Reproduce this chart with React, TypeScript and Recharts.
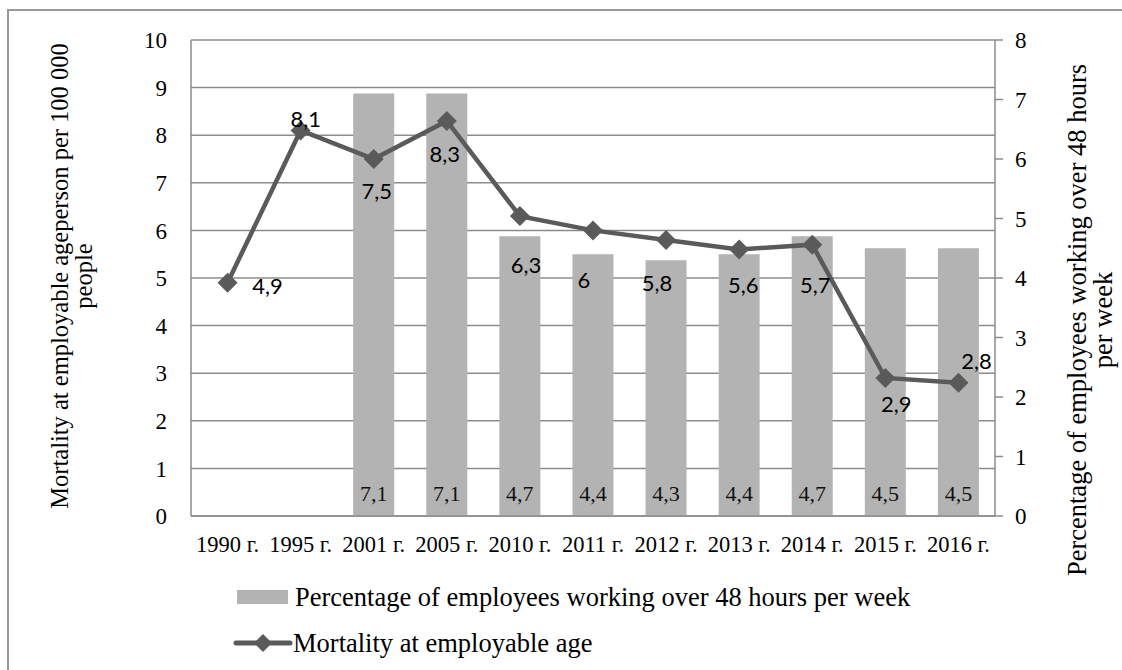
import React from 'react';
import {
    ComposedChart, Bar, Line,
    XAxis, YAxis, CartesianGrid, LabelList, Legend
} from 'recharts';

// Years on the x axis
const YEARS = ['1990 г.', '1995 г.', '2001 г.', '2005 г.', '2010 г.', '2011 г.', '2012 г.', '2013 г.', '2014 г.', '2015 г.', '2016 г.'];

// Percentage of employees working over 48 hours per week (right axis)
const OVERTIME_SHARE = [null, null, 7.1, 7.1, 4.7, 4.4, 4.3, 4.4, 4.7, 4.5, 4.5];

// Mortality at employable age, per 100 000 people (left axis)
const MORTALITY = [4.9, 8.1, 7.5, 8.3, 6.3, 6, 5.8, 5.6, 5.7, 2.9, 2.8];

const LEFT_TICKS = [0, 1, 2, 3, 4, 5, 6, 7, 8, 9, 10];
const RIGHT_TICKS = [0, 1, 2, 3, 4, 5, 6, 7, 8];

// The mortality labels were placed by hand in the original, so each one gets its own shift from the marker
const MORTALITY_LABEL_SHIFT = [
    [40, 3], [5, -12], [3, 31], [-2, 33], [6, 48], [-9, 49],
    [-9, 43], [4, 35], [3, 40], [11, 26], [18, -22],
];

const chartData = YEARS.map((year, i) => ({
    year,
    share: OVERTIME_SHARE[i],
    mortality: MORTALITY[i],
}));

const SERIF = '"Liberation Serif", "Times New Roman", serif';
const SANS = 'Lato, "Open Sans", sans-serif';
const GRID = '#8c8c8c';
const BAR = '#b3b3b3';
const LINE = '#5a5a5a';

const serifStyle = { fontFamily: SERIF };
const sansStyle = { fontFamily: SANS };

const fmt = (v: number) => String(v).replace('.', ',');

const Diamond = (props: any) => {
    const { cx, cy } = props;
    if (cx == null || cy == null) return null;
    const r = 10;
    return (
        <polygon
            points={`${cx},${cy - r} ${cx + r},${cy} ${cx},${cy + r} ${cx - r},${cy}`}
            fill={LINE}
        />
    );
};

const renderMortalityLabel = (props: any) => {
    const { index, value } = props;
    if (value == null) return null;
    const vb = props.viewBox || {};
    const x = vb.x ?? props.x;
    const y = vb.y ?? props.y;
    const [dx, dy] = MORTALITY_LABEL_SHIFT[index] || [0, -20];
    return (
        <text
            key={`m-${index}`}
            x={x + dx}
            y={y + dy}
            textAnchor="middle"
            dominantBaseline="central"
            style={sansStyle}
            fontSize={22}
            fill="#000"
        >
            {fmt(value)}
        </text>
    );
};

const renderShareLabel = (props: any) => {
    const { index, value } = props;
    if (value == null) return null;
    const vb = props.viewBox || {};
    const x = vb.x ?? props.x;
    const y = vb.y ?? props.y;
    const w = vb.width ?? props.width;
    const h = vb.height ?? props.height;
    return (
        <text
            key={`s-${index}`}
            x={x + w / 2}
            y={y + h - 15}
            textAnchor="middle"
            style={serifStyle}
            fontSize={22}
            fill="#111"
        >
            {fmt(value)}
        </text>
    );
};

const LeftTitle = () => (
    <text
        transform="rotate(-90, 68, 276)"
        x={68}
        y={276}
        textAnchor="middle"
        style={serifStyle}
        fontSize={24.5}
        fill="#000"
    >
        <tspan x={68} dy={0}>Mortality at employable ageperson per 100 000</tspan>
        <tspan x={68} dy={24}>people</tspan>
    </text>
);

const RightTitle = () => (
    <text
        transform="rotate(-90, 1086, 320)"
        x={1086}
        y={320}
        textAnchor="middle"
        style={serifStyle}
        fontSize={26.5}
        fill="#000"
    >
        <tspan x={1086} dy={0}>Percentage of employees working over 48 hours</tspan>
        <tspan x={1086} dy={26}>per week</tspan>
    </text>
);

const LegendContent = () => (
    <div style={{ position: 'relative', height: 104, fontFamily: SERIF, fontSize: 26.5, color: '#000' }}>
        <div style={{ position: 'absolute', left: 237, top: 29, width: 51, height: 14, background: BAR }} />
        <div style={{ position: 'absolute', left: 295, top: 21, lineHeight: '30px', whiteSpace: 'nowrap' }}>
            Percentage of employees working over 48 hours per week
        </div>
        <svg style={{ position: 'absolute', left: 232, top: 71 }} width={62} height={22}>
            <line x1={4} y1={11} x2={58} y2={11} stroke={LINE} strokeWidth={5} strokeLinecap="round" />
            <polygon points="31,2 40,11 31,20 22,11" fill={LINE} />
        </svg>
        <div style={{ position: 'absolute', left: 293, top: 67, lineHeight: '30px', whiteSpace: 'nowrap' }}>
            Mortality at employable age
        </div>
    </div>
);

const tickProps = { fontSize: 23, fill: '#000', style: serifStyle };

export default function App() {
    return (
        <div style={{ position: 'absolute', left: 0, top: 0, width: 1122, height: 670, background: '#fff', overflow: 'hidden', fontFamily: SERIF }}>
            {/* frame of the pasted chart */}
            <div style={{ position: 'absolute', left: 7, top: 9, right: 0, bottom: -4, borderLeft: '2px solid #999', borderTop: '2px solid #999' }} />
            <div style={{ position: 'absolute', left: 0, top: 0 }}>
                <ComposedChart
                    width={1122}
                    height={670}
                    data={chartData}
                    margin={{ top: 40, right: 47, bottom: 5, left: 111 }}
                >
                    <CartesianGrid yAxisId="left" vertical={false} stroke={GRID} strokeWidth={1.5} />
                    <XAxis
                        dataKey="year"
                        interval={0}
                        height={45}
                        tickLine={false}
                        tickSize={8}
                        tickMargin={12}
                        axisLine={{ stroke: GRID, strokeWidth: 1.5 }}
                        tick={{ ...tickProps, fontSize: 22.5 }}
                    />
                    <YAxis
                        yAxisId="left"
                        domain={[0, 10]}
                        ticks={LEFT_TICKS}
                        interval={0}
                        width={80}
                        tickLine={false}
                        tickSize={8}
                        tickMargin={16}
                        axisLine={{ stroke: GRID, strokeWidth: 1.5 }}
                        tick={tickProps}
                        label={<LeftTitle />}
                    />
                    <YAxis
                        yAxisId="right"
                        orientation="right"
                        domain={[0, 8]}
                        ticks={RIGHT_TICKS}
                        interval={0}
                        width={80}
                        tickSize={8}
                        tickMargin={12}
                        tickLine={{ stroke: GRID, strokeWidth: 1.5 }}
                        axisLine={{ stroke: GRID, strokeWidth: 1.5 }}
                        tick={tickProps}
                        label={<RightTitle />}
                    />
                    <Legend
                        verticalAlign="bottom"
                        align="left"
                        content={() => <LegendContent />}
                        wrapperStyle={{ left: 0, width: 1122 }}
                    />
                    <Bar
                        yAxisId="right"
                        dataKey="share"
                        name="Percentage of employees working over 48 hours per week"
                        fill={BAR}
                        barSize={41}
                        isAnimationActive={false}
                    >
                        <LabelList dataKey="share" content={renderShareLabel} />
                    </Bar>
                    <Line
                        yAxisId="left"
                        type="linear"
                        dataKey="mortality"
                        name="Mortality at employable age"
                        stroke={LINE}
                        strokeWidth={4.5}
                        dot={(p: any) => <Diamond key={`d-${p.index}`} {...p} />}
                        activeDot={false}
                        isAnimationActive={false}
                    >
                        <LabelList dataKey="mortality" content={renderMortalityLabel} />
                    </Line>
                </ComposedChart>
            </div>
        </div>
    );
}
